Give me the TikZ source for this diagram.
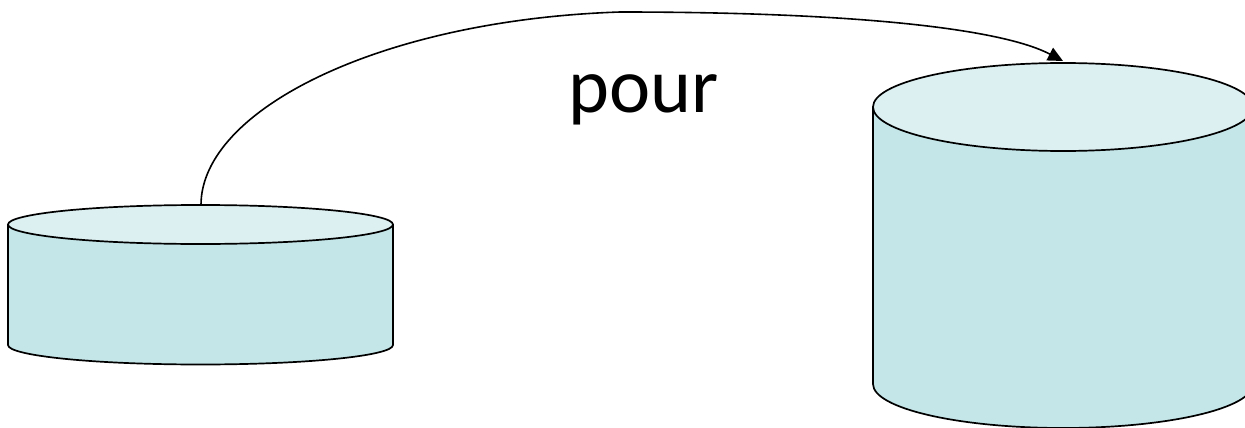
\documentclass[tikz,border=0pt]{standalone}
\usepackage{fontspec}
\setmainfont{Carlito}
\usetikzlibrary{arrows.meta}
\definecolor{sidefill}{RGB}{196,230,232}
\definecolor{topfill}{RGB}{220,239,241}
\tikzset{
  cylside/.style={fill=sidefill, draw=black, line width=1.7pt, line join=round},
  cyltop/.style={fill=topfill, draw=black, line width=1.7pt},
  pourarrow/.style={draw=black, line width=1.6pt, -{Triangle[length=15pt,width=14pt]}},
  lbl/.style={font=\fontsize{78}{94}\selectfont, inner sep=0pt}
}
\newcommand{\mycyl}[5]{% cx, top cy, bottom cy, rx, ry
  \path[cylside] (#1-#4,#2) -- (#1-#4,#3) arc[start angle=180,end angle=0,x radius=#4,y radius=#5] -- (#1+#4,#2) -- cycle;
  \path[cyltop] (#1,#2) ellipse[x radius=#4,y radius=#5];
}
\begin{document}
\begin{tikzpicture}[x=1pt,y=-1pt]
\useasboundingbox (0,0) rectangle (1245,428);
\clip (0,0) rectangle (1245,428);
% left cylinder
\mycyl{200.5}{224.5}{345}{192.5}{19.5}
% right cylinder
\mycyl{1063}{107}{384}{190}{44}
\coordinate (srcTop) at (201,205);
\coordinate (dstTop) at (1063,61);
\coordinate (peak) at (620,12);
\path[pourarrow] (srcTop) .. controls (201,110) and (380,20) .. (peak)
  .. controls (850,12) and (1000,28) .. (dstTop);
\node[lbl, anchor=base] (pourlbl) at (644,112) {pour};
\end{tikzpicture}
\end{document}
